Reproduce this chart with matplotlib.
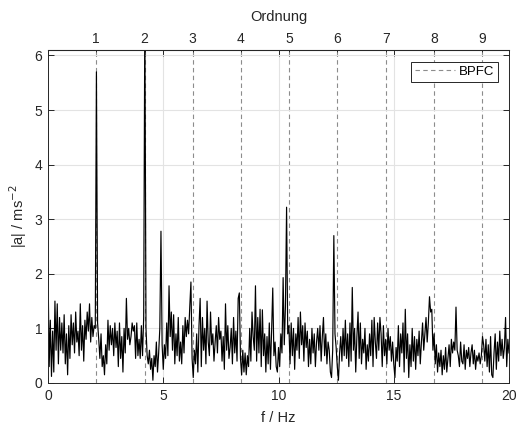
import numpy as np
import matplotlib
matplotlib.use('Agg')
import matplotlib.pyplot as plt

plt.rcParams['font.family'] = ['Liberation Sans', 'DejaVu Sans']
plt.rcParams['font.size'] = 10

# Amplitudenspektrum, Aufloesung 0.05 Hz (0 ... 20 Hz), Werte aus dem Bild geschaetzt
df = 0.05
amp = [
    # 0 - 1 Hz
    2.1, 0.3, 1.15, 0.12, 0.95, 0.2, 1.5, 0.6, 1.45, 0.35, 1.2, 0.6, 1.1, 0.55, 1.25, 0.35, 0.9, 0.15, 1.05, 0.45,
    # 1 - 2 Hz
    1.25, 0.7, 1.1, 0.55, 1.3, 0.75, 0.95, 0.5, 1.45, 0.6, 1.05, 0.4, 1.15, 0.8, 1.3, 0.95, 1.45, 0.75, 1.2, 0.85,
    # 2 - 3 Hz
    1.05, 1.0, 5.7, 1.1, 0.8, 0.45, 0.9, 0.3, 0.5, 0.15, 0.7, 0.35, 1.15, 0.6, 1.05, 0.7, 1.0, 0.5, 1.1, 0.65,
    # 3 - 4 Hz
    0.95, 0.3, 1.1, 0.45, 0.85, 0.2, 1.0, 0.55, 1.55, 0.8, 1.0, 0.7, 0.85, 1.1, 0.95, 1.05, 0.45, 1.1, 0.5, 0.8,
    # 4 - 5 Hz
    0.45, 1.05, 0.5, 1.2, 6.8, 1.0, 0.5, 0.35, 0.6, 0.25, 0.45, 0.05, 0.5, 0.3, 0.75, 0.2, 0.55, 1.0, 2.78, 0.7,
    # 5 - 6 Hz
    0.25, 0.7, 0.45, 1.1, 0.5, 1.78, 0.85, 1.3, 0.6, 1.25, 0.35, 0.9, 0.5, 1.2, 0.4, 0.75, 0.35, 1.05, 0.55, 1.2,
    # 6 - 7 Hz
    0.85, 1.15, 0.9, 1.4, 1.85, 0.45, 0.1, 0.6, 0.35, 0.9, 0.2, 1.05, 1.55, 0.3, 1.2, 0.6, 1.0, 0.35, 1.5, 0.75,
    # 7 - 8 Hz
    0.5, 1.3, 0.7, 0.9, 0.4, 0.75, 1.05, 0.55, 1.2, 0.8, 0.95, 0.4, 0.85, 0.25, 1.45, 0.6, 1.05, 0.45, 0.65, 1.0,
    # 8 - 9 Hz
    0.35, 1.2, 0.55, 0.95, 0.4, 1.55, 1.65, 0.45, 0.15, 0.6, 0.2, 0.55, 0.15, 0.5, 0.3, 1.0, 0.4, 1.3, 0.85, 0.6,
    # 9 - 10 Hz
    1.78, 0.4, 1.2, 0.55, 1.35, 0.3, 1.34, 0.5, 0.9, 0.2, 0.85, 0.35, 1.1, 0.25, 0.95, 1.74, 0.5, 0.75, 0.3, 0.2,
    # 10 - 11 Hz
    0.65, 0.3, 0.9, 0.55, 1.93, 0.7, 1.4, 3.22, 0.9, 1.05, 0.35, 1.1, 0.5, 1.0, 0.25, 0.9, 0.6, 1.2, 0.45, 1.3,
    # 11 - 12 Hz
    0.7, 1.05, 0.4, 1.1, 0.65, 0.95, 0.3, 0.8, 0.35, 1.0, 0.55, 0.9, 0.3, 0.75, 1.0, 0.6, 1.05, 0.4, 0.85, 1.2,
    # 12 - 13 Hz
    0.5, 0.9, 0.35, 0.75, 0.6, 0.2, 0.1, 0.6, 2.7, 0.9, 0.65, 0.3, 0.05, 0.55, 0.85, 0.4, 1.0, 0.5, 1.15, 0.45,
    # 13 - 14 Hz
    0.9, 0.3, 1.1, 0.4, 1.75, 0.6, 1.0, 0.2, 0.85, 1.3, 0.45, 1.1, 0.35, 0.8, 0.55, 1.0, 0.25, 0.7, 0.4, 0.9,
    # 14 - 15 Hz
    0.5, 1.15, 0.3, 1.2, 0.75, 0.45, 1.1, 0.6, 1.2, 0.9, 0.3, 1.05, 0.5, 0.8, 0.35, 1.0, 0.6, 0.85, 0.4, 0.75,
    # 15 - 16 Hz
    0.35, 0.1, 0.65, 0.4, 1.05, 0.3, 0.9, 0.55, 1.1, 0.2, 1.35, 0.45, 0.9, 0.1, 0.7, 0.3, 1.0, 0.4, 0.85, 0.25,
    # 16 - 17 Hz
    0.8, 0.5, 0.95, 0.35, 0.75, 1.1, 0.6, 0.9, 1.2, 0.75, 1.1, 1.58, 1.3, 1.35, 0.6, 0.9, 0.35, 0.7, 0.2, 0.55,
    # 17 - 18 Hz
    0.3, 0.6, 0.15, 0.5, 0.25, 0.65, 0.2, 0.45, 0.7, 0.3, 0.8, 0.55, 0.75, 0.6, 1.39, 0.6, 0.5, 0.3, 0.75, 0.4,
    # 18 - 19 Hz
    0.35, 0.7, 0.25, 0.6, 0.45, 0.65, 0.3, 0.55, 0.7, 0.35, 0.6, 0.25, 0.5, 0.4, 0.55, 0.35, 0.5, 0.85, 0.7, 0.4,
    # 19 - 20 Hz
    0.8, 0.3, 0.7, 0.2, 0.85, 0.15, 0.1, 0.55, 0.9, 0.25, 0.75, 0.4, 0.95, 0.5, 0.8, 0.45, 0.65, 1.2, 0.3, 0.8,
    0.55,
]
freq = np.arange(len(amp)) * df

bpfc = 2.093          # Hz, Ueberrollfrequenz Kaefig
orders = [1, 2, 3, 4, 5, 6, 7, 8, 9]
x_ticks = [0, 5, 10, 15, 20]
y_ticks = [0, 1, 2, 3, 4, 5, 6]

txt = '#262626'
fig = plt.figure(figsize=(5.26, 4.26), dpi=100)
ax = fig.add_axes([0.0913, 0.101, 0.8764, 0.7816])

ax.grid(True, color='#e3e3e3', linewidth=0.8, zorder=0)
for i, k in enumerate(orders):
    ax.axvline(k * bpfc, color='#8c8c8c', linestyle=(0, (4, 3)), linewidth=0.8,
               label='BPFC' if i == 0 else None, zorder=1)
ax.plot(freq, amp, color='black', linewidth=0.85, zorder=2)

ax.set_xlim(0, 20)
ax.set_ylim(0, 6.1)
ax.set_xticks(x_ticks)
ax.set_yticks(y_ticks)
ax.tick_params(direction='in', top=True, right=True, length=4, width=0.7,
               colors=txt, labelsize=10, pad=4)
for s in ax.spines.values():
    s.set_color(txt)
    s.set_linewidth(0.7)

ax.set_xlabel('f / Hz', color=txt, fontsize=10.5, labelpad=6)
ax.set_ylabel('|a| / ms$^{-2}$', color=txt, fontsize=10.5, labelpad=4)

top = ax.secondary_xaxis('top', functions=(lambda f: f / bpfc, lambda o: o * bpfc))
top.set_xticks(orders)
top.tick_params(direction='in', length=4, width=0.7, colors=txt, labelsize=10, pad=3)
top.spines['top'].set_color(txt)
top.set_xlabel('Ordnung', color=txt, fontsize=10.5, labelpad=8)

leg = ax.legend(loc='upper right', fontsize=9.5, fancybox=False, framealpha=1,
                edgecolor=txt, handlelength=3.0, handletextpad=0.3, borderpad=0.3,
                bbox_to_anchor=(0.99, 0.985))
leg.get_frame().set_linewidth(0.7)
for t in leg.get_texts():
    t.set_color('black')

fig.savefig('out.png', dpi=100)
